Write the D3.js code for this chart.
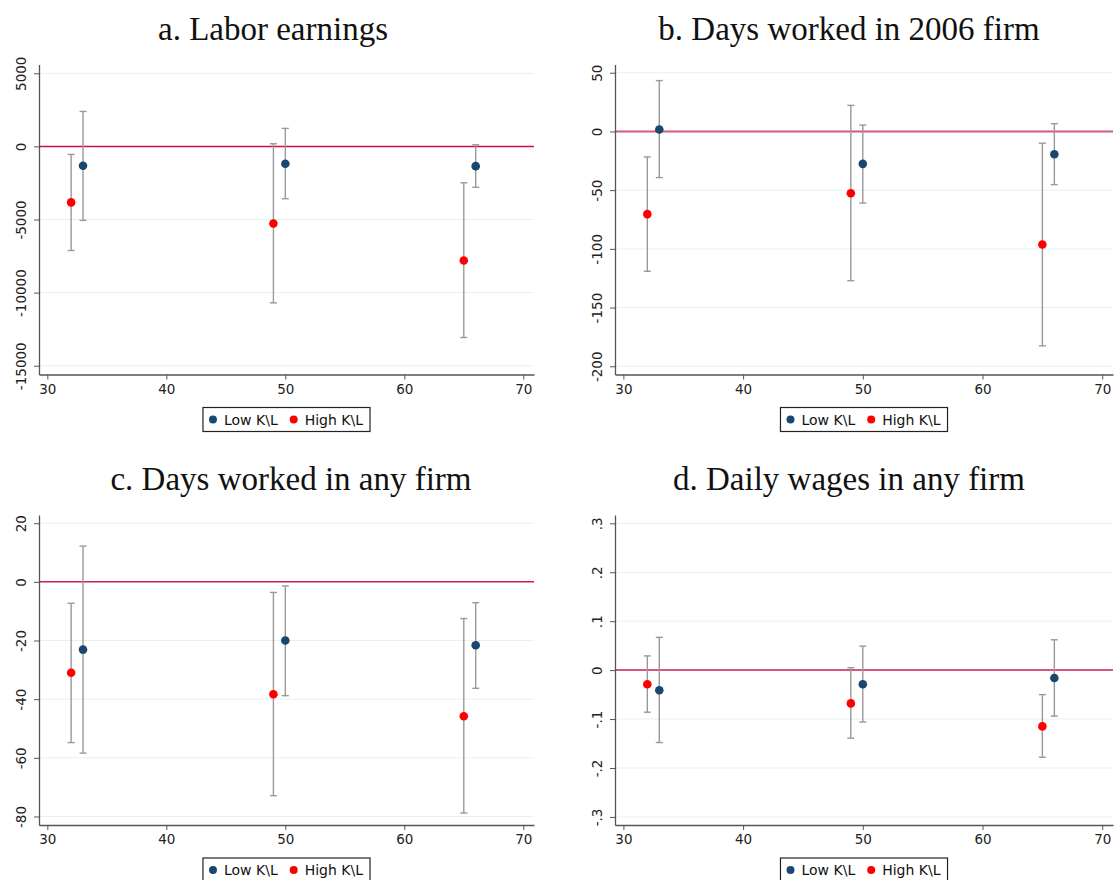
<!DOCTYPE html>
<html>
<head>
<meta charset="utf-8">
<script src="https://cdn.jsdelivr.net/npm/d3@7"></script>
<style>
  body { margin: 0; background: #fff; }
  svg { display: block; }
  .tick text { font-family: "DejaVu Sans", sans-serif; font-size: 13.5px; fill: #222; }
  .ttl { font-family: "Liberation Serif", serif; font-size: 33px; fill: #111; }
  .leg { font-family: "DejaVu Sans", sans-serif; font-size: 14px; fill: #111; }
</style>
</head>
<body>
<div id="chart"></div>
<script>
// ages where the estimates sit (low K\L shifted one year right)
var lowAges  = [33, 50, 66];
var highAges = [32, 49, 65];

var titles = ["a. Labor earnings", "b. Days worked in 2006 firm",
              "c. Days worked in any firm", "d. Daily wages in any firm"];

// point estimates and CI bounds, per panel
var lowEst  = [[-1320, -1190, -1350], [1.7, -27.6, -19.4], [-23.1, -20.0, -21.6], [-0.041, -0.029, -0.016]];
var lowLo   = [[-5060, -3580, -2800], [-39.3, -61.0, -45.3], [-58.4, -38.8, -36.3], [-0.148, -0.106, -0.094]];
var lowHi   = [[2390, 1230, 110],     [43.3, 5.4, 6.6],      [12.2, -1.4, -7.1],    [0.067, 0.049, 0.062]];
var highEst = [[-3830, -5270, -7800], [-70.4, -52.7, -96.3], [-31.0, -38.3, -45.8], [-0.029, -0.068, -0.115]];
var highLo  = [[-7120, -10700, -13070], [-119.1, -127.1, -182.6], [-54.8, -72.9, -78.8], [-0.086, -0.139, -0.178]];
var highHi  = [[-550, 180, -2490],    [-21.7, 22.2, -10.0],  [-7.3, -3.6, -12.5],   [0.029, 0.005, -0.050]];

var yTicks = [[5000, 0, -5000, -10000, -15000], [50, 0, -50, -100, -150, -200],
              [20, 0, -20, -40, -60, -80], [0.3, 0.2, 0.1, 0, -0.1, -0.2, -0.3]];
var yDomains = [[-15600, 5600], [-207, 57], [-82.9, 22.8], [-0.3165, 0.317]];
var xTicks = [30, 40, 50, 60, 70];

// stata style: plain hyphen, no leading zero
var fmtInt = function(d) { return String(d); };
var fmtDec = function(d) { return d == 0 ? "0" : String(d).replace("0.", "."); };
var yFormats = [fmtInt, fmtInt, fmtInt, fmtDec];

var zeroColours = ["#cc1040", "#d4587a", "#cc2050", "#d4587a"];
var zeroWidths = [1.5, 2, 1.5, 2];
var titleX = [273, 849, 291, 849];

var W = 1115, H = 880;
var svg = d3.select("#chart").append("svg").attr("width", W).attr("height", H);

var panels = [
  {left: 39, right: 534, top: 64.5, bottom: 374.5, ty: 40},
  {left: 615, right: 1113, top: 64.5, bottom: 374.5, ty: 40},
  {left: 39, right: 534, top: 515, bottom: 825, ty: 490},
  {left: 615, right: 1113, top: 515, bottom: 825, ty: 490}
];

var navy = "#1a476f", red = "#ff0000", barCol = "#999999";

panels.forEach(function(p, i) {
  var g = svg.append("g");
  var x = d3.scaleLinear().domain([29.3, 70.9]).range([p.left, p.right]);
  var y = d3.scaleLinear().domain(yDomains[i]).range([p.bottom, p.top]);

  g.append("text").attr("class", "ttl")
    .attr("x", titleX[i]).attr("y", p.ty)
    .attr("text-anchor", "middle").text(titles[i]);

  // grid
  g.selectAll(".grid").data(yTicks[i]).enter().append("line")
    .attr("x1", p.left).attr("x2", p.right)
    .attr("y1", function(d) { return y(d); }).attr("y2", function(d) { return y(d); })
    .attr("stroke", "#e8f0f1").attr("stroke-width", 1);

  // zero line
  g.append("line")
    .attr("x1", p.left).attr("x2", p.right)
    .attr("y1", y(0)).attr("y2", y(0))
    .attr("stroke", zeroColours[i]).attr("stroke-width", zeroWidths[i]);

  // axes
  var ya = g.append("g").attr("transform", "translate(" + p.left + ",0)")
    .call(d3.axisLeft(y).tickValues(yTicks[i]).tickFormat(yFormats[i]).tickSize(5).tickSizeOuter(0));
  ya.select(".domain").attr("stroke", "#555").attr("stroke-width", 1.3);
  ya.selectAll(".tick line").attr("stroke", "#555");
  ya.selectAll(".tick text")
    .attr("x", 0).attr("dy", 0)
    .attr("text-anchor", "middle")
    .attr("transform", "translate(-13,0) rotate(-90)");

  var xa = g.append("g").attr("transform", "translate(0," + p.bottom + ")")
    .call(d3.axisBottom(x).tickValues(xTicks).tickSize(5).tickSizeOuter(0));
  xa.select(".domain").attr("stroke", "#555").attr("stroke-width", 1.3);
  xa.selectAll(".tick line").attr("stroke", "#555");
  xa.selectAll(".tick text").attr("dy", "0.85em");

  // series
  var series = [
    {ages: highAges, est: highEst[i], lo: highLo[i], hi: highHi[i], col: red},
    {ages: lowAges, est: lowEst[i], lo: lowLo[i], hi: lowHi[i], col: navy}
  ];
  series.forEach(function(s) {
    var rows = s.ages.map(function(a, k) { return {a: a, e: s.est[k], lo: s.lo[k], hi: s.hi[k]}; });
    var bars = g.append("g");
    bars.selectAll(".v").data(rows).enter().append("line")
      .attr("x1", function(d) { return x(d.a); }).attr("x2", function(d) { return x(d.a); })
      .attr("y1", function(d) { return y(d.lo); }).attr("y2", function(d) { return y(d.hi); })
      .attr("stroke", barCol).attr("stroke-width", 1.4);
    ["lo", "hi"].forEach(function(k) {
      bars.selectAll(".c" + k).data(rows).enter().append("line")
        .attr("x1", function(d) { return x(d.a) - 3.5; }).attr("x2", function(d) { return x(d.a) + 3.5; })
        .attr("y1", function(d) { return y(d[k]); }).attr("y2", function(d) { return y(d[k]); })
        .attr("stroke", barCol).attr("stroke-width", 1.4);
    });
  });
  series.forEach(function(s) {
    g.selectAll(null).data(s.ages.map(function(a, k) { return {a: a, e: s.est[k]}; }))
      .enter().append("circle")
      .attr("cx", function(d) { return x(d.a); })
      .attr("cy", function(d) { return y(d.e); })
      .attr("r", 4.3).attr("fill", s.col);
  });

  // legend
  var cx = (p.left + p.right) / 2;
  var leg = g.append("g");
  var items = [{t: "Low K\\L", c: navy}, {t: "High K\\L", c: red}];
  var xx = 0;
  items.forEach(function(it) {
    var gi = leg.append("g").attr("transform", "translate(" + xx + ",0)");
    gi.append("circle").attr("cx", 0).attr("cy", 0).attr("r", 4).attr("fill", it.c);
    var t = gi.append("text").attr("class", "leg").attr("x", 11).attr("y", 5).text(it.t);
    xx += 11 + t.node().getComputedTextLength() + 16;
  });
  var totalW = xx - 16;
  var boxW = totalW + 10 + 7;
  var bx = cx - boxW / 2;
  leg.attr("transform", "translate(" + (bx + 10) + "," + (p.bottom + 45) + ")");
  leg.insert("rect", ":first-child")
    .attr("x", -10).attr("y", -12).attr("width", boxW).attr("height", 24)
    .attr("fill", "#fff").attr("stroke", "#222").attr("stroke-width", 1.2);
});
</script>
</body>
</html>
